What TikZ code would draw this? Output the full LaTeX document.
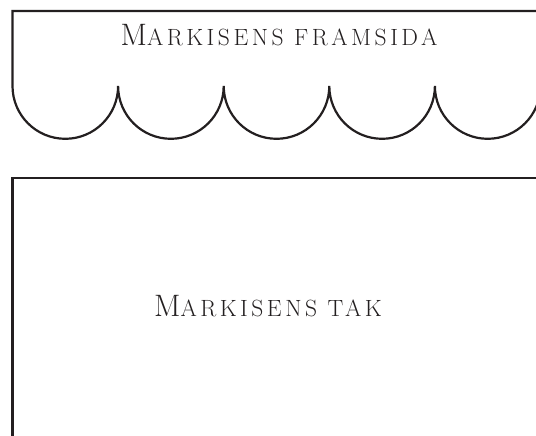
\documentclass[tikz,border=0pt]{standalone}
\usepackage{fontspec}
\setmainfont{Latin Modern Roman}
\newfontfamily\spacedfont{Latin Modern Roman}[LetterSpace=15]
\definecolor{ink}{HTML}{231F20}
\newcommand{\mkCapLetter}[1]{{\fontsize{31}{36}\selectfont #1}}
\newcommand{\mkSmallLetters}[1]{{\fontsize{23.5}{28}\selectfont #1}}
\begin{document}
\begin{tikzpicture}[x=1pt,y=1pt,
  outline/.style={draw=ink,line width=2.2pt},
  label/.style={text=ink,inner sep=0pt,anchor=base,font=\spacedfont}]
\useasboundingbox (0,0) rectangle (536,-436);
\clip (0,0) rectangle (536,-436);
% awning front
\draw[outline] (600,-11) -- (12.5,-11) -- (12.5,-86)
  arc[start angle=180,end angle=360,radius=52.8]
  arc[start angle=180,end angle=360,radius=52.8]
  arc[start angle=180,end angle=360,radius=52.8]
  arc[start angle=180,end angle=360,radius=52.8]
  arc[start angle=180,end angle=360,radius=52.8];
\node[label] (front) at (279,-46) {\mkCapLetter{M}\mkSmallLetters{ARKISENS FRAMSIDA}};
% awning roof
\draw[outline] (600,-178.3) -- (12.5,-178.3) -- (12.5,-500);
\node[label] (roof) at (268,-316) {\mkCapLetter{M}\mkSmallLetters{ARKISENS TAK}};
\end{tikzpicture}
\end{document}
